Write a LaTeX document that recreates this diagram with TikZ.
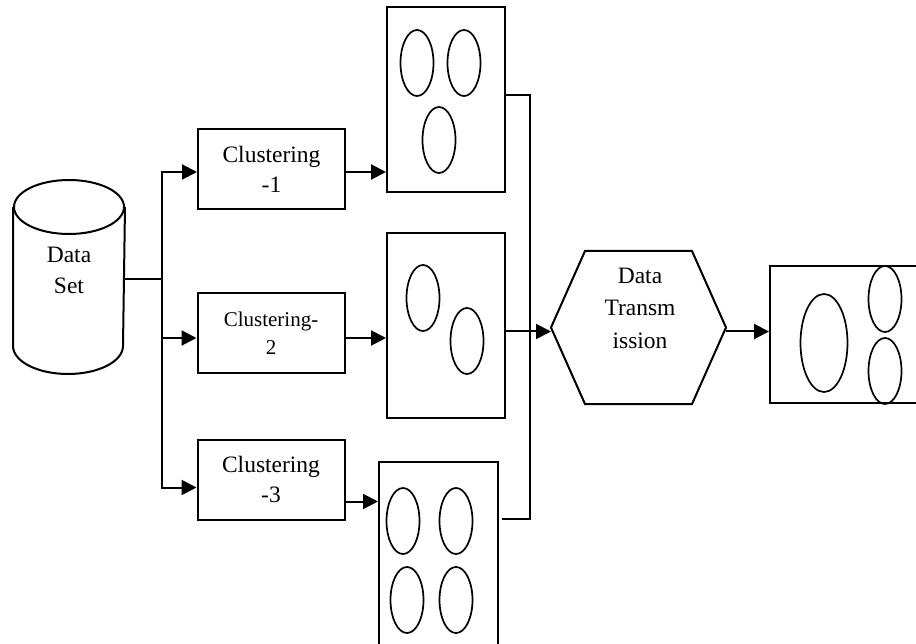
\documentclass[tikz,border=0pt]{standalone}
\usepackage{fontspec}
\setmainfont{Liberation Serif}
\usetikzlibrary{arrows.meta,calc}
\begin{document}
\begin{tikzpicture}[x=1pt,y=-1pt,line width=2pt,
  arr/.style={-{Triangle[length=15pt,width=15pt]}},
  txt/.style={font=\fontsize{23.5}{30}\selectfont,align=center},
  box/.style={draw,txt,inner sep=0pt,minimum width=147pt,minimum height=80pt},
  panel/.style={draw,inner sep=0pt,minimum width=118pt,minimum height=185pt},
  ell/.style={line width=1.7pt}]
\useasboundingbox (0,0) rectangle (916,644);
\clip (0,0) rectangle (916,644);

% data set cylinder
\node[inner sep=0pt,minimum width=110pt,minimum height=137pt] (ds) at (69,276.5) {};
\draw (ds.north west) -- (ds.south west)
  arc[start angle=180,end angle=360,x radius=55pt,y radius=28pt] -- (ds.north east);
\draw (ds.north) ellipse [x radius=55pt,y radius=27pt];
\node[txt,font=\fontsize{23.5}{31}\selectfont] (dslabel) at (69,270) {Data\\Set};

% clustering stages
\node[box] (c1) at (271.5,169) {Clustering\\-1};
\node[box,font=\fontsize{21}{28}\selectfont] (c2) at (271,333) {Clustering-\\2};
\node[box] (c3) at (271,479.5) {Clustering\\-3};

% cluster panels
\node[panel] (b1) at (446,99.5) {};
\node[panel] (b2) at (446,325.5) {};
\node[panel,minimum width=119pt] (b3) at (438.5,554.5) {};
\draw[ell] (417,63) ellipse [x radius=16.5pt,y radius=33pt];
\draw[ell] (464,63) ellipse [x radius=16.5pt,y radius=33pt];
\draw[ell] (439,140) ellipse [x radius=16.5pt,y radius=33pt];
\draw[ell] (423,298) ellipse [x radius=16.5pt,y radius=33pt];
\draw[ell] (467,341) ellipse [x radius=16.5pt,y radius=33pt];
\draw[ell] (403,521) ellipse [x radius=16.5pt,y radius=33pt];
\draw[ell] (456,521) ellipse [x radius=16.5pt,y radius=33pt];
\draw[ell] (407,600) ellipse [x radius=16.5pt,y radius=33pt];
\draw[ell] (456,600) ellipse [x radius=16.5pt,y radius=33pt];

% data transmission hexagon
\node[inner sep=0pt,minimum width=173pt,minimum height=151pt] (hx) at (638.5,327.5) {};
\draw (hx.west) -- ($(hx.north west)+(34,0)$) -- ($(hx.north east)+(-34,0)$)
  -- (hx.east) -- ($(hx.south east)+(-34,0)$) -- ($(hx.south west)+(34,0)$) -- cycle;
\node[txt,font=\fontsize{23.5}{32.5}\selectfont] (hxlabel) at (640,308) {Data\\Transm\\ission};

% merged result
\node[draw,inner sep=0pt,minimum width=160pt,minimum height=137pt] (fb) at (850,334.5) {};
\draw[ell] (824,343) ellipse [x radius=23.5pt,y radius=49pt];
\draw[ell] (885,299) ellipse [x radius=16.5pt,y radius=33pt];
\draw[ell] (885,371) ellipse [x radius=16.5pt,y radius=33pt];

% connectors from the data set
\coordinate (jn) at (162,279);
\draw (jn -| ds.east) -- (jn);
\draw[arr] (jn) |- ([yshift=-3pt]c1.west);
\draw[arr] (jn) |- ([yshift=-5pt]c2.west);
\draw[arr] (jn) |- ([yshift=-8pt]c3.west);

% clustering to panels
\draw[arr] ([yshift=-3pt]c1.east) coordinate (c1o) -- (c1o -| b1.west);
\draw[arr] ([yshift=-5pt]c2.east) coordinate (c2o) -- (c2o -| b2.west);
\draw[arr] ([yshift=-22pt]c3.east) coordinate (c3o) -- (c3o -| b3.west);

% collecting bus
\coordinate (bt) at (530,95);
\coordinate (bb) at (530,519);
\draw (b1.east |- bt) -- (bt) -- (bb) -- ([xshift=3pt]b3.east |- bb);
\draw[arr] ([yshift=-4pt]b2.east |- hx.west) -- ([yshift=-4pt]hx.west);
\draw[arr] ([yshift=-4pt]hx.east) coordinate (hxo) -- (hxo -| fb.west);
\end{tikzpicture}
\end{document}
